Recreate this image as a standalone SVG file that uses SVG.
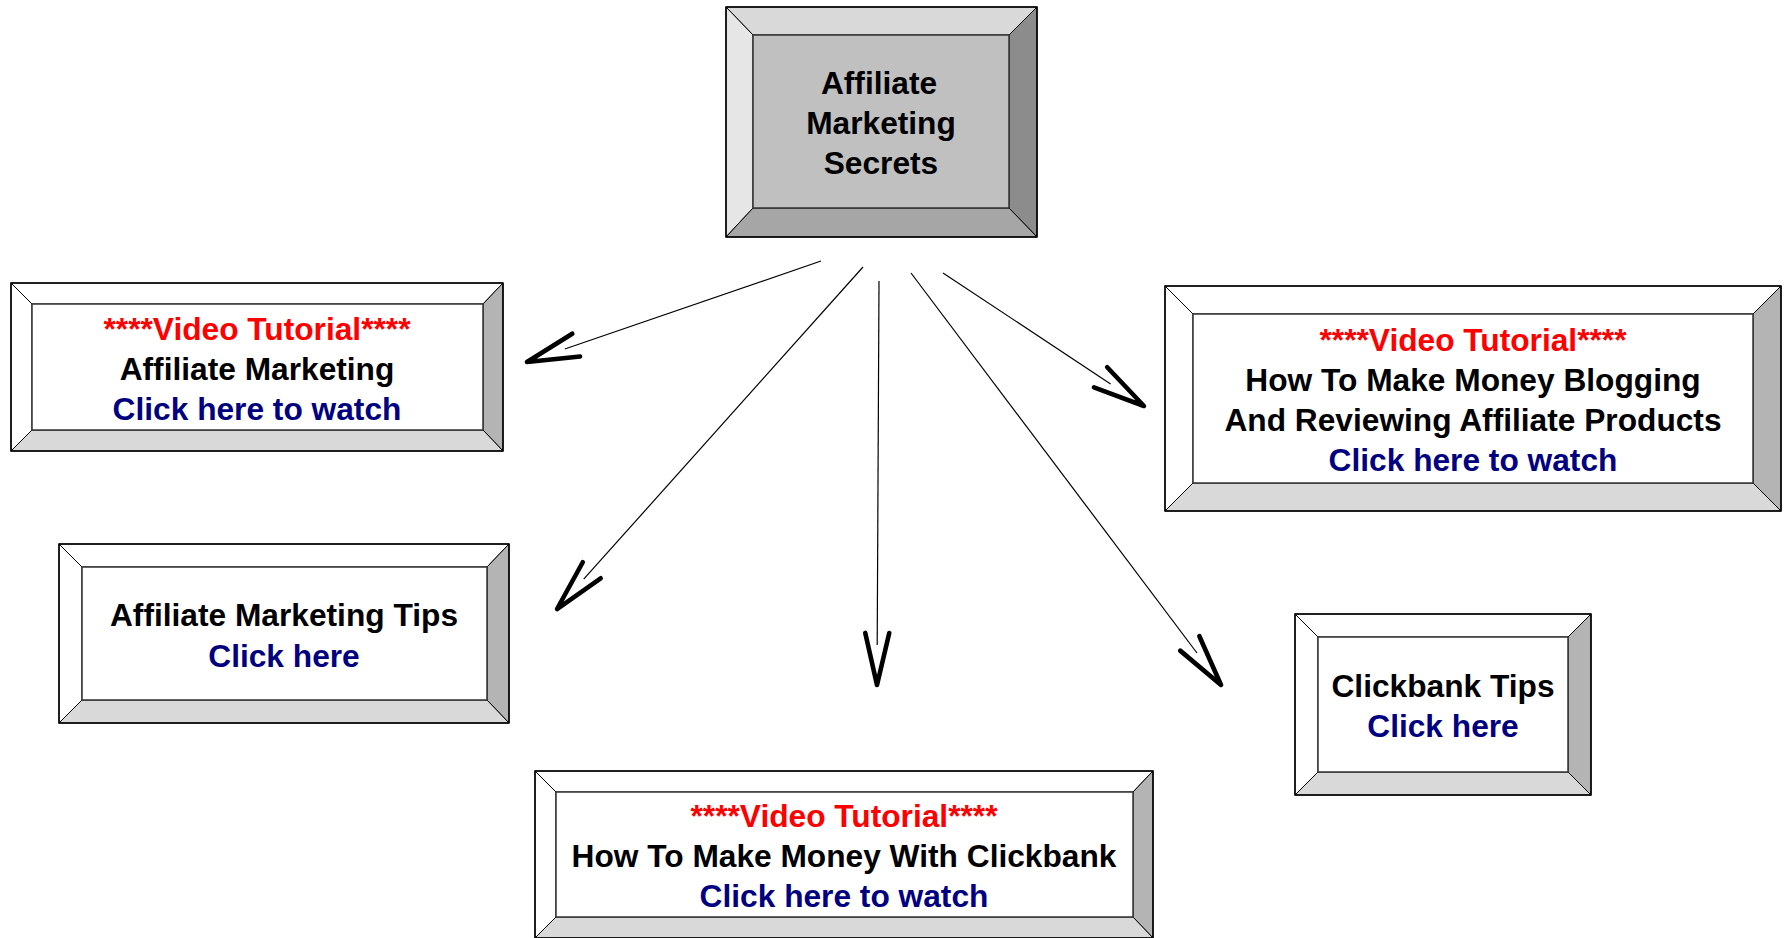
<svg xmlns="http://www.w3.org/2000/svg" width="1784" height="938" viewBox="0 0 1784 938">
  <style>
    .edge { stroke: #000; stroke-width: 1.2; fill: none; }
    .outer { stroke: #000; stroke-width: 1.5; stroke-linejoin: miter; }
    .diag { stroke: #000; stroke-width: 1; }
    .inner { stroke: #333; stroke-width: 1.5; }
    .wt { fill: #ffffff; }
    .wr { fill: #b4b4b4; }
    .wb { fill: #d9d9d9; }
    .t { font-family: "Liberation Sans", Arial, Helvetica, sans-serif; font-weight: bold; font-size: 31.7px; text-anchor: middle; }
    .red { fill: #ff0000; }
    .blk { fill: #000000; }
    .blue { fill: #000080; }
  </style>
  <defs>
    <marker id="arr" markerUnits="userSpaceOnUse" markerWidth="120" markerHeight="120" refX="0" refY="0" viewBox="-60 -60 120 120" orient="auto" overflow="visible">
      <path d="M -12,-12 L 40,0 L -12,12" fill="none" stroke="#000" stroke-width="4.6" stroke-linecap="round" stroke-linejoin="round"/>
    </marker>
  </defs>

  <g id="connectors">
    <line class="edge" x1="821" y1="261" x2="564.8" y2="349" marker-end="url(#arr)"/>
    <line class="edge" x1="863" y1="267" x2="583.7" y2="579.2" marker-end="url(#arr)"/>
    <line class="edge" x1="879" y1="281" x2="877.2" y2="645" marker-end="url(#arr)"/>
    <line class="edge" x1="911" y1="273" x2="1197" y2="653" marker-end="url(#arr)"/>
    <line class="edge" x1="943" y1="273" x2="1110.6" y2="383.9" marker-end="url(#arr)"/>
  </g>

  <g id="node-center">
    <polygon points="726,7 1037,7 1009,35 753,35" fill="#d9d9d9" class="diag"/>
    <polygon points="726,7 753,35 753,208 726,237" fill="#e6e6e6" class="diag"/>
    <polygon points="1037,7 1037,237 1009,208 1009,35" fill="#8c8c8c" class="diag"/>
    <polygon points="726,237 753,208 1009,208 1037,237" fill="#a6a6a6" class="diag"/>
    <rect x="753" y="35" width="256" height="173" fill="#c0c0c0" class="inner"/>
    <rect x="726" y="7" width="311" height="230" fill="none" class="outer"/>
    <text class="t blk" x="879" y="94">Affiliate</text>
    <text class="t blk" x="881" y="134">Marketing</text>
    <text class="t blk" x="881" y="174">Secrets</text>
  </g>

  <g id="node-affiliate-marketing">
    <polygon points="11,283 503,283 483,304 32,304" class="wt diag"/>
    <polygon points="11,283 32,304 32,430 11,451" class="wt diag"/>
    <polygon points="503,283 503,451 483,430 483,304" class="wr diag"/>
    <polygon points="11,451 32,430 483,430 503,451" class="wb diag"/>
    <rect x="32" y="304" width="451" height="126" fill="#fff" class="inner"/>
    <rect x="11" y="283" width="492" height="168" fill="none" class="outer"/>
    <text class="t red" x="257" y="339.5">****Video Tutorial****</text>
    <text class="t blk" x="257" y="379.5">Affiliate Marketing</text>
    <text class="t blue" x="257" y="419.5">Click here to watch</text>
  </g>

  <g id="node-affiliate-tips">
    <polygon points="59,544 509,544 487,567 82,567" class="wt diag"/>
    <polygon points="59,544 82,567 82,700 59,723" class="wt diag"/>
    <polygon points="509,544 509,723 487,700 487,567" class="wr diag"/>
    <polygon points="59,723 82,700 487,700 509,723" class="wb diag"/>
    <rect x="82" y="567" width="405" height="133" fill="#fff" class="inner"/>
    <rect x="59" y="544" width="450" height="179" fill="none" class="outer"/>
    <text class="t blk" x="284" y="626">Affiliate Marketing Tips</text>
    <text class="t blue" x="284" y="666.5">Click here</text>
  </g>

  <g id="node-blogging">
    <polygon points="1165,286 1781,286 1753,314 1193,314" class="wt diag"/>
    <polygon points="1165,286 1193,314 1193,483 1165,511" class="wt diag"/>
    <polygon points="1781,286 1781,511 1753,483 1753,314" class="wr diag"/>
    <polygon points="1165,511 1193,483 1753,483 1781,511" class="wb diag"/>
    <rect x="1193" y="314" width="560" height="169" fill="#fff" class="inner"/>
    <rect x="1165" y="286" width="616" height="225" fill="none" class="outer"/>
    <text class="t red" x="1473" y="351">****Video Tutorial****</text>
    <text class="t blk" x="1473" y="391">How To Make Money Blogging</text>
    <text class="t blk" x="1473" y="431">And Reviewing Affiliate Products</text>
    <text class="t blue" x="1473" y="471">Click here to watch</text>
  </g>

  <g id="node-clickbank-tips">
    <polygon points="1295,614 1591,614 1568,637 1318,637" class="wt diag"/>
    <polygon points="1295,614 1318,637 1318,772 1295,795" class="wt diag"/>
    <polygon points="1591,614 1591,795 1568,772 1568,637" class="wr diag"/>
    <polygon points="1295,795 1318,772 1568,772 1591,795" class="wb diag"/>
    <rect x="1318" y="637" width="250" height="135" fill="#fff" class="inner"/>
    <rect x="1295" y="614" width="296" height="181" fill="none" class="outer"/>
    <text class="t blk" x="1443" y="697">Clickbank Tips</text>
    <text class="t blue" x="1443" y="737">Click here</text>
  </g>

  <g id="node-clickbank-video">
    <polygon points="535,771 1153,771 1133,792 556,792" class="wt diag"/>
    <polygon points="535,771 556,792 556,917 535,938" class="wt diag"/>
    <polygon points="1153,771 1153,938 1133,917 1133,792" class="wr diag"/>
    <polygon points="535,938 556,917 1133,917 1153,938" class="wb diag"/>
    <rect x="556" y="792" width="577" height="125" fill="#fff" class="inner"/>
    <rect x="535" y="771" width="618" height="167" fill="none" class="outer"/>
    <text class="t red" x="844" y="827">****Video Tutorial****</text>
    <text class="t blk" x="844" y="867">How To Make Money With Clickbank</text>
    <text class="t blue" x="844" y="907">Click here to watch</text>
  </g>
</svg>
